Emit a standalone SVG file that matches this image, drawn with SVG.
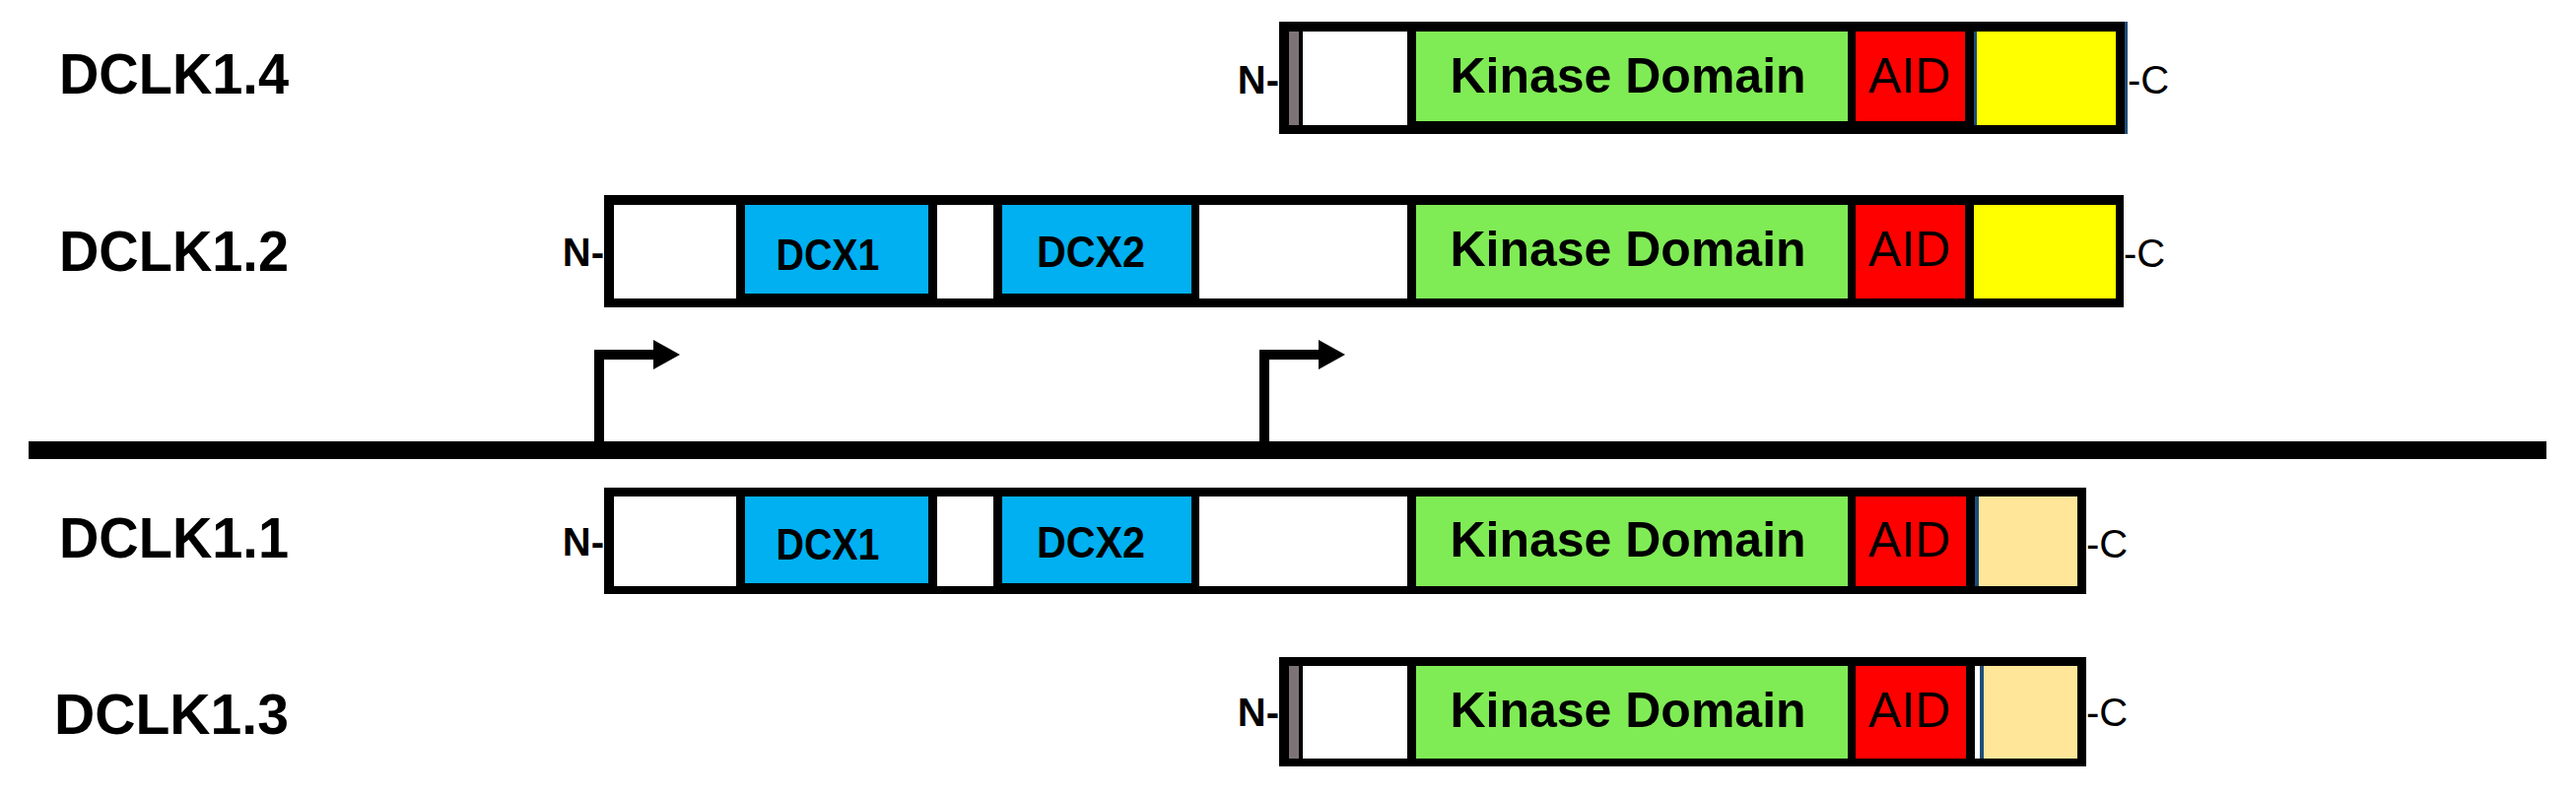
<svg xmlns="http://www.w3.org/2000/svg" width="2614" height="806" viewBox="0 0 2614 806">
<style>
.frame{fill:#000}
.w{fill:#fff}
.g{fill:#7fec55}
.r{fill:#ff0000}
.y{fill:#ffff00}
.t{fill:#ffe699}
.b{fill:#00b0f0}
.gr{fill:#7d7377}
.bl{fill:#1f4e79}
.lbl{font-family:"Liberation Sans",Arial,sans-serif;font-weight:bold;font-size:58px;fill:#000}
.kd{font-family:"Liberation Sans",Arial,sans-serif;font-weight:bold;font-size:50px;fill:#000;text-anchor:middle}
.aid{font-family:"Liberation Sans",Arial,sans-serif;font-size:50px;fill:#000;text-anchor:middle}
.dcx{font-family:"Liberation Sans",Arial,sans-serif;font-weight:bold;font-size:44px;fill:#000;text-anchor:middle}
.n{font-family:"Liberation Sans",Arial,sans-serif;font-weight:bold;font-size:40px;fill:#000;text-anchor:end}
.c{font-family:"Liberation Sans",Arial,sans-serif;font-size:40px;fill:#000}
.ln{fill:none;stroke:#000;stroke-width:10;stroke-linejoin:miter}
</style>
<defs>
<marker id="ah" markerUnits="userSpaceOnUse" markerWidth="30" markerHeight="32" refX="5" refY="15" orient="auto">
<path d="M0,0 L27,15 L0,30 Z" fill="#000"/>
</marker>
</defs>

<g id="connectors">
<rect x="29" y="448" width="2555" height="18" fill="#000"/>
<path class="ln" d="M608,457 V360 H668" marker-end="url(#ah)"/>
<path class="ln" d="M1283,457 V360 H1343" marker-end="url(#ah)"/>
</g>

<g id="dclk14">
<text class="lbl" x="60" y="95" textLength="233" lengthAdjust="spacingAndGlyphs">DCLK1.4</text>
<rect class="frame" x="1298" y="22" width="858" height="114"/>
<rect class="gr" x="1308" y="32" width="10" height="95"/>
<rect class="w" x="1322" y="32" width="106" height="95"/>
<rect class="g" x="1437" y="32" width="438" height="91"/>
<rect class="r" x="1883" y="32" width="111" height="91"/>
<rect class="bl" x="2003" y="32" width="3" height="95"/>
<rect class="y" x="2006" y="32" width="141" height="95"/>
<rect class="bl" x="2156" y="22" width="3" height="114"/>
<text class="kd" x="1652" y="94">Kinase Domain</text>
<text class="aid" x="1938" y="94">AID</text>
<text class="n" x="1298" y="95">N-</text>
<text class="c" x="2159" y="95">-C</text>
</g>

<g id="dclk12">
<text class="lbl" x="60" y="275" textLength="233" lengthAdjust="spacingAndGlyphs">DCLK1.2</text>
<rect class="frame" x="613" y="198" width="1542" height="114"/>
<rect class="w" x="623" y="208" width="124" height="95"/>
<rect class="b" x="756" y="208" width="186" height="90"/>
<rect class="w" x="951" y="208" width="57" height="95"/>
<rect class="b" x="1017" y="208" width="192" height="90"/>
<rect class="w" x="1217" y="208" width="211" height="95"/>
<rect class="g" x="1437" y="208" width="438" height="95"/>
<rect class="r" x="1883" y="208" width="111" height="95"/>
<rect class="y" x="2003" y="208" width="144" height="95"/>
<text class="dcx" x="840" y="274" textLength="105" lengthAdjust="spacingAndGlyphs">DCX1</text>
<text class="dcx" x="1107" y="271" textLength="110" lengthAdjust="spacingAndGlyphs">DCX2</text>
<text class="kd" x="1652" y="270">Kinase Domain</text>
<text class="aid" x="1938" y="270">AID</text>
<text class="n" x="613" y="270">N-</text>
<text class="c" x="2155" y="271">-C</text>
</g>

<g id="dclk11">
<text class="lbl" x="60" y="566" textLength="233" lengthAdjust="spacingAndGlyphs">DCLK1.1</text>
<rect class="frame" x="613" y="495" width="1504" height="108"/>
<rect class="w" x="623" y="504" width="124" height="91"/>
<rect class="b" x="756" y="504" width="186" height="88"/>
<rect class="w" x="951" y="504" width="57" height="91"/>
<rect class="b" x="1017" y="504" width="192" height="88"/>
<rect class="w" x="1217" y="504" width="211" height="91"/>
<rect class="g" x="1437" y="504" width="438" height="91"/>
<rect class="r" x="1883" y="504" width="112" height="91"/>
<rect class="bl" x="2004" y="504" width="4" height="91"/>
<rect class="t" x="2008" y="504" width="100" height="91"/>
<text class="dcx" x="840" y="568" textLength="105" lengthAdjust="spacingAndGlyphs">DCX1</text>
<text class="dcx" x="1107" y="566" textLength="110" lengthAdjust="spacingAndGlyphs">DCX2</text>
<text class="kd" x="1652" y="565">Kinase Domain</text>
<text class="aid" x="1938" y="565">AID</text>
<text class="n" x="613" y="564">N-</text>
<text class="c" x="2117" y="566">-C</text>
</g>

<g id="dclk13">
<text class="lbl" x="55" y="745" textLength="238" lengthAdjust="spacingAndGlyphs">DCLK1.3</text>
<rect class="frame" x="1298" y="667" width="819" height="111"/>
<rect class="gr" x="1308" y="676" width="10" height="94"/>
<rect class="w" x="1322" y="676" width="106" height="94"/>
<rect class="g" x="1437" y="676" width="438" height="94"/>
<rect class="r" x="1883" y="676" width="112" height="94"/>
<rect class="w" x="2004" y="676" width="5" height="94"/>
<rect class="bl" x="2009" y="676" width="4" height="94"/>
<rect class="t" x="2013" y="676" width="95" height="94"/>
<text class="kd" x="1652" y="738">Kinase Domain</text>
<text class="aid" x="1938" y="738">AID</text>
<text class="n" x="1298" y="737">N-</text>
<text class="c" x="2117" y="737">-C</text>
</g>
</svg>
